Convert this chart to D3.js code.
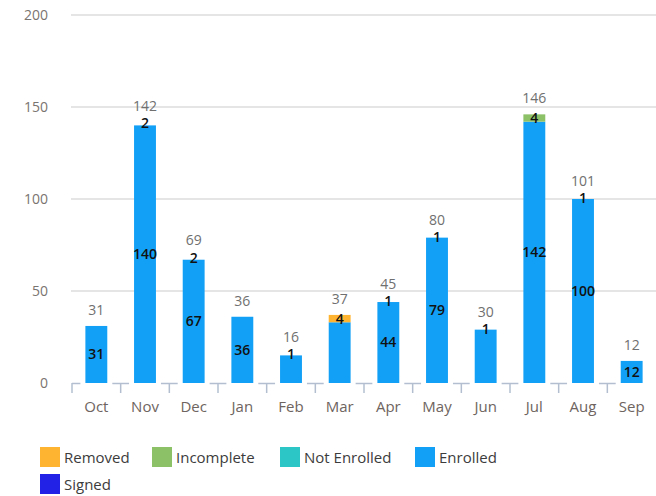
<!DOCTYPE html>
<html>
<head>
<meta charset="utf-8">
<script src="https://cdn.jsdelivr.net/npm/d3@7"></script>
<style>
  body { margin: 0; background: #fff; }
  text { font-family: "Open Sans", "Noto Sans", sans-serif; }
</style>
</head>
<body>
<div id="chart"></div>
<script>
// months and stacked series (bottom -> top)
const months = ["Oct", "Nov", "Dec", "Jan", "Feb", "Mar", "Apr", "May", "Jun", "Jul", "Aug", "Sep"]
const enrolled = [31, 140, 67, 36, 15, 33, 44, 79, 29, 142, 100, 12]
const notEnrolled = [0, 0, 0, 0, 0, 0, 0, 0, 0, 0, 0, 0]
const incomplete = [0, 0, 0, 0, 0, 0, 0, 0, 0, 4, 0, 0]
const removed = [0, 0, 0, 0, 0, 4, 0, 0, 0, 0, 0, 0]
const signed = [0, 2, 2, 0, 1, 0, 1, 1, 1, 0, 1, 0]
// inner labels the source chart leaves out
const hiddenEnrolledLabels = ["Feb", "Mar", "Jun"]
const yTicks = [0, 50, 100, 150, 200]

const legendNames = ["Removed", "Incomplete", "Not Enrolled", "Enrolled", "Signed"]
const colors = {
  "Removed": "#ffb431",
  "Incomplete": "#8cc168",
  "Not Enrolled": "#2cc6c6",
  "Enrolled": "#12a0f6",
  "Signed": "#2222e6"
}

const W = 656, H = 496
const plot = {left: 72, right: 656, top: 15, bottom: 383}

const svg = d3.select("#chart").append("svg")
  .attr("width", W)
  .attr("height", H)

const keys = ["Enrolled", "Not Enrolled", "Incomplete", "Removed", "Signed"]
const series = {"Enrolled": enrolled, "Not Enrolled": notEnrolled, "Incomplete": incomplete, "Removed": removed, "Signed": signed}
const rows = months.map((m, i) => {
  const r = {month: m}
  keys.forEach(k => { r[k] = series[k][i] })
  return r
})
const stacked = d3.stack().keys(keys)(rows)

const x = d3.scaleBand()
  .domain(months)
  .range([plot.left, plot.right])
  .paddingInner(0.55)
  .paddingOuter(0.275)

const y = d3.scaleLinear()
  .domain([0, 200])
  .range([plot.bottom, plot.top])

// gridlines
svg.append("g")
  .selectAll("line")
  .data(yTicks.filter(t => t > 0))
  .join("line")
    .attr("x1", plot.left - 1)
    .attr("x2", plot.right)
    .attr("y1", d => y(d))
    .attr("y2", d => y(d))
    .attr("stroke", "#dcdcdc")
    .attr("stroke-width", 1.5)

// y labels
svg.append("g")
  .selectAll("text")
  .data(yTicks)
  .join("text")
    .attr("x", 48)
    .attr("y", d => y(d))
    .attr("dy", "0.35em")
    .attr("text-anchor", "end")
    .attr("font-size", 14)
    .attr("fill", "#7a7470")
    .text(d => d)

// x axis: tick marks at band boundaries, short line pieces in the gaps
const gap = (x.step() - x.bandwidth()) / 2
const bounds = months.map(m => x(m) - gap)
const axisG = svg.append("g").attr("stroke", "#b3bfd0").attr("stroke-width", 1.5)
bounds.forEach((b, i) => {
  axisG.append("line")
    .attr("x1", i === 0 ? b : b - gap + 5)
    .attr("x2", b + gap - 5)
    .attr("y1", plot.bottom + 0.5)
    .attr("y2", plot.bottom + 0.5)
  axisG.append("line")
    .attr("x1", b).attr("x2", b)
    .attr("y1", plot.bottom).attr("y2", plot.bottom + 10)
})

svg.append("g")
  .attr("transform", `translate(0,${plot.bottom})`)
  .call(d3.axisBottom(x).tickSize(0).tickPadding(18))
  .call(g => g.select(".domain").remove())
  .selectAll("text")
    .attr("font-size", 15)
    .attr("font-family", "\"Open Sans\", sans-serif")
    .attr("fill", "#6e6460")

// bars
const layers = svg.append("g")
  .selectAll("g")
  .data(stacked)
  .join("g")
    .attr("fill", d => colors[d.key])
    .attr("fill-opacity", d => d.key === "Signed" ? 0 : 1)

layers.selectAll("rect")
  .data(d => d)
  .join("rect")
    .attr("x", d => x(d.data.month))
    .attr("y", d => y(d[1]))
    .attr("width", x.bandwidth())
    .attr("height", d => y(d[0]) - y(d[1]))

// segment labels
stacked.forEach(layer => {
  svg.append("g")
    .selectAll("text")
    .data(layer.filter(d => d[1] - d[0] > 0 &&
      !(layer.key === "Enrolled" && hiddenEnrolledLabels.includes(d.data.month))))
    .join("text")
      .attr("x", d => x(d.data.month) + x.bandwidth() / 2)
      .attr("y", d => y((d[0] + d[1]) / 2))
      .attr("dy", "0.35em")
      .attr("text-anchor", "middle")
      .attr("font-size", 14)
      .attr("font-weight", 600)
      .attr("fill", "#111")
      .text(d => d[1] - d[0])
})

// totals
const totals = rows.map(r => ({month: r.month, total: d3.sum(keys, k => r[k])}))
svg.append("g")
  .selectAll("text")
  .data(totals)
  .join("text")
    .attr("x", d => x(d.month) + x.bandwidth() / 2)
    .attr("y", d => y(d.total) - 16)
    .attr("dy", "0.35em")
    .attr("text-anchor", "middle")
    .attr("font-size", 14)
    .attr("fill", "#707070")
    .text(d => d.total)

// legend
const legendPos = [[40, 447], [152, 447], [280, 447], [415, 447], [40, 474]]
const legend = svg.append("g")
  .selectAll("g")
  .data(legendNames)
  .join("g")
    .attr("transform", (d, i) => `translate(${legendPos[i][0]},${legendPos[i][1]})`)

legend.append("rect")
  .attr("width", 20)
  .attr("height", 20)
  .attr("fill", d => colors[d])

legend.append("text")
  .attr("x", 24)
  .attr("y", 11)
  .attr("dy", "0.35em")
  .attr("font-size", 15)
  .attr("fill", "#3c3c3c")
  .text(d => d)
</script>
</body>
</html>
